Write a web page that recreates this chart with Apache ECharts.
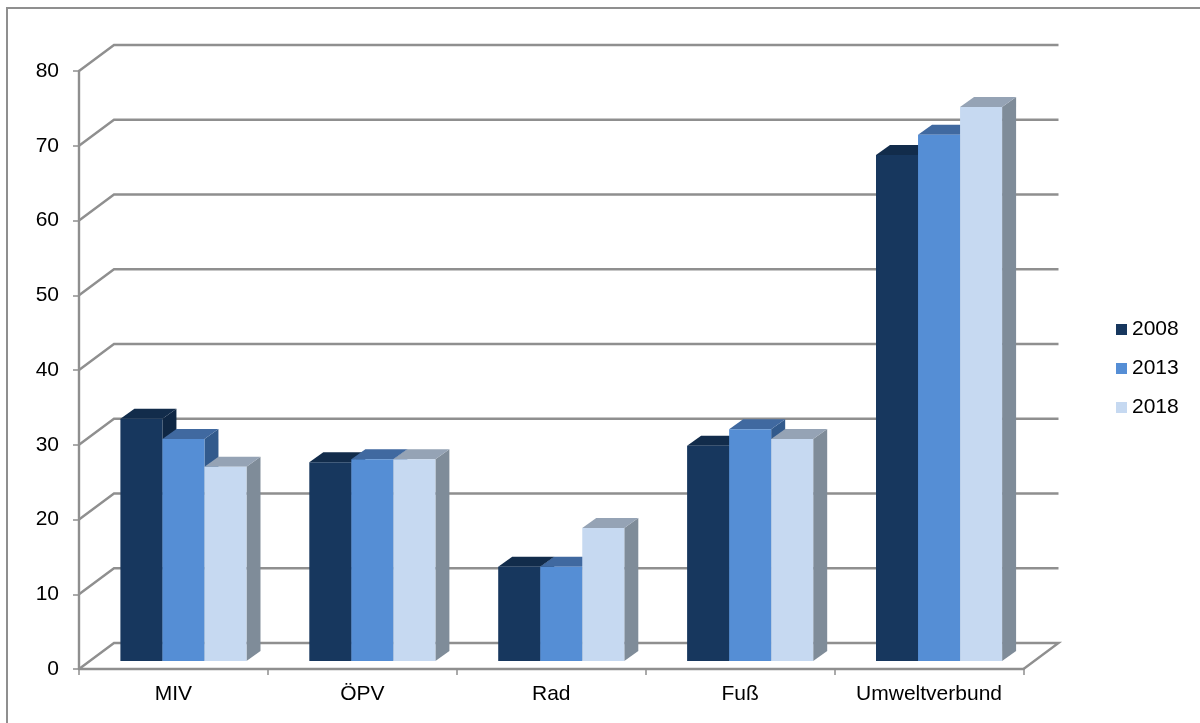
<!DOCTYPE html>
<html>
<head>
<meta charset="utf-8">
<style>html,body{margin:0;padding:0;background:#fff}#c{width:1200px;height:723px}</style>
<script src="https://cdn.jsdelivr.net/npm/echarts@6/dist/echarts.min.js"></script>
</head>
<body>
<div id="c"></div>
<script>
const categories = ['MIV', 'ÖPV', 'Rad', 'Fuß', 'Umweltverbund'];
const values2008 = [32.4, 26.6, 12.6, 28.8, 67.7];
const values2013 = [29.7, 27.0, 12.6, 31.0, 70.4];
const values2018 = [26.0, 27.0, 17.8, 29.7, 74.1];
const yTicks = [0, 10, 20, 30, 40, 50, 60, 70, 80];

const WALL_DX = 35, WALL_DY = -26;
const BAR_SHIFT_X = 10, BAR_SHIFT_Y = -8, BAR_DX = 14, BAR_DY = -10;
const GRID_COLOR = '#8f8f8f';
const FONT = '"Liberation Sans", Arial, sans-serif';

function gridRender(params, api) {
  const v = api.value(1);
  const p = api.coord([0, v]);
  const band = api.size([1, 0])[0];
  const x0 = p[0] - band / 2, x1 = x0 + band * categories.length, y = p[1];
  const pts = [[x0, y], [x0 + WALL_DX, y + WALL_DY], [x1 + WALL_DX, y + WALL_DY]];
  if (v === 0) pts.push([x1, y]);
  return {
    type: 'polyline',
    shape: { points: pts },
    style: { fill: 'none', stroke: GRID_COLOR, lineWidth: 2.4 }
  };
}

function barRender(index, front, top, side) {
  return function (params, api) {
    const c = api.coord([api.value(0), api.value(1)]);
    const b = api.coord([api.value(0), 0]);
    const band = api.size([1, 0])[0];
    const w = band * 0.2225;
    const l = c[0] + BAR_SHIFT_X + (index - 1.5) * w;
    const r = l + w;
    const t = c[1] + BAR_SHIFT_Y;
    const bt = b[1] + BAR_SHIFT_Y;
    return {
      type: 'group',
      children: [
        { type: 'polygon', shape: { points: [[r, t], [r + BAR_DX, t + BAR_DY], [r + BAR_DX, bt + BAR_DY], [r, bt]] }, style: { fill: side } },
        { type: 'polygon', shape: { points: [[l, t], [l + BAR_DX, t + BAR_DY], [r + BAR_DX, t + BAR_DY], [r, t]] }, style: { fill: top } },
        { type: 'rect', shape: { x: l, y: t, width: w, height: bt - t }, style: { fill: front } }
      ]
    };
  };
}

function barSeries(name, values, index, front, top, side) {
  return {
    name: name,
    type: 'custom',
    z: 3 + index,
    itemStyle: { color: front },
    encode: { x: 0, y: 1 },
    data: values.map((v, i) => [i, v]),
    renderItem: barRender(index, front, top, side)
  };
}

const chart = echarts.init(document.getElementById('c'), null, { renderer: 'canvas' });
chart.setOption({
  animation: false,
  backgroundColor: '#fff',
  textStyle: { fontFamily: FONT },
  graphic: [{
    type: 'polyline',
    shape: { points: [[7, 723], [7, 8], [1200, 8]] },
    style: { fill: 'none', stroke: GRID_COLOR, lineWidth: 2 },
    z: 0, silent: true
  }],
  grid: { left: 79, right: 176.5, top: 71, bottom: 54, containLabel: false },
  legend: {
    orient: 'vertical',
    left: 1111,
    top: 314,
    itemWidth: 11,
    itemHeight: 11,
    itemGap: 18,
    icon: 'rect',
    data: ['2008', '2013', '2018'],
    textStyle: { fontSize: 21, color: '#000', fontFamily: FONT }
  },
  xAxis: {
    type: 'category',
    data: categories,
    boundaryGap: true,
    axisLine: { lineStyle: { color: GRID_COLOR, width: 2.4 } },
    axisTick: { show: true, interval: 0, length: 6, lineStyle: { color: GRID_COLOR, width: 1.5 } },
    axisLabel: { color: '#000', fontSize: 21, margin: 15, interval: 0, fontFamily: FONT },
    splitLine: { show: false }
  },
  yAxis: {
    type: 'value',
    min: 0, max: 80, interval: 10,
    axisLine: { show: true, lineStyle: { color: GRID_COLOR, width: 2.4 } },
    axisTick: { show: true, length: 6, lineStyle: { color: GRID_COLOR, width: 1.5 } },
    axisLabel: { color: '#000', fontSize: 21, margin: 20, fontFamily: FONT },
    splitLine: { show: false }
  },
  series: [
    {
      name: 'Gitter',
      type: 'custom',
      z: 1,
      silent: true,
      encode: { x: 0, y: 1 },
      data: yTicks.map(v => [0, v]),
      renderItem: gridRender
    },
    barSeries('2008', values2008, 0, '#17375e', '#122c4b', '#0f2744'),
    barSeries('2013', values2013, 1, '#558ed5', '#4069a0', '#325a8c'),
    barSeries('2018', values2018, 2, '#c6d9f1', '#95a3b5', '#7f8c99')
  ]
});
</script>
</body>
</html>
